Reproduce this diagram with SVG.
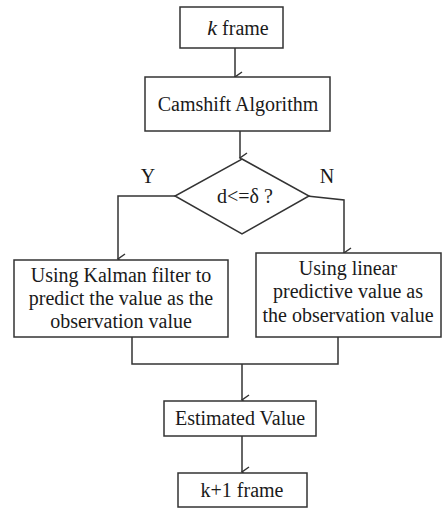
<svg xmlns="http://www.w3.org/2000/svg" width="442" height="509" viewBox="0 0 442 509">
<style>
.box{fill:#fff;stroke:#333;stroke-width:1.5}
.ln{fill:none;stroke:#333;stroke-width:1.5}
.t{font-family:"Liberation Serif","Times New Roman",serif;font-size:20px;fill:#1a1a1a;text-anchor:middle}
</style>
<defs>
<marker id="ar" markerWidth="12" markerHeight="12" refX="6" refY="10" orient="auto" markerUnits="userSpaceOnUse" viewBox="0 0 12 12">
<polyline points="1,3 6,10 11,3" fill="none" stroke="#333" stroke-width="1.5"/>
</marker>
</defs>
<rect width="442" height="509" fill="#fff"/>
<g id="connectors">
<line class="ln" x1="235" y1="48" x2="235" y2="77" marker-end="url(#ar)"/>
<line class="ln" x1="240" y1="131" x2="240" y2="158" marker-end="url(#ar)"/>
<polyline class="ln" points="175,196 118,196 118,259" marker-end="url(#ar)"/>
<polyline class="ln" points="307,196 344,200 344,253" marker-end="url(#ar)"/>
<polyline class="ln" points="132,337 132,364 338,364 338,337"/>
<line class="ln" x1="242" y1="364" x2="242" y2="400" marker-end="url(#ar)"/>
<line class="ln" x1="242" y1="436" x2="242" y2="472" marker-end="url(#ar)"/>
<text class="t" x="148" y="183">Y</text>
<text class="t" x="327" y="183">N</text>
</g>
<g id="kframe">
<rect class="box" x="180" y="7" width="103" height="41"/>
<text class="t" x="238" y="35"><tspan font-style="italic" font-size="22">k</tspan> frame</text>
</g>
<g id="camshift">
<rect class="box" x="145" y="77" width="185" height="54"/>
<text class="t" x="238" y="111">Camshift Algorithm</text>
</g>
<g id="decision">
<polygon class="box" points="242,159 309,196 242,234 175,196"/>
<text class="t" x="245" y="203">d&lt;=δ ?</text>
</g>
<g id="kalman">
<rect class="box" x="14" y="260" width="214" height="77"/>
<text class="t" x="121" y="282">Using Kalman filter to</text>
<text class="t" x="121" y="305">predict the value as the</text>
<text class="t" x="121" y="328">observation value</text>
</g>
<g id="linear">
<rect class="box" x="256" y="253" width="185" height="84"/>
<text class="t" x="348" y="275">Using linear</text>
<text class="t" x="348" y="298">predictive value as</text>
<text class="t" x="348" y="322">the observation value</text>
</g>
<g id="estimated">
<rect class="box" x="164" y="401" width="152" height="35"/>
<text class="t" x="240" y="425">Estimated Value</text>
</g>
<g id="next">
<rect class="box" x="178" y="473" width="129" height="34"/>
<text class="t" x="242" y="497">k+1 frame</text>
</g>
</svg>
